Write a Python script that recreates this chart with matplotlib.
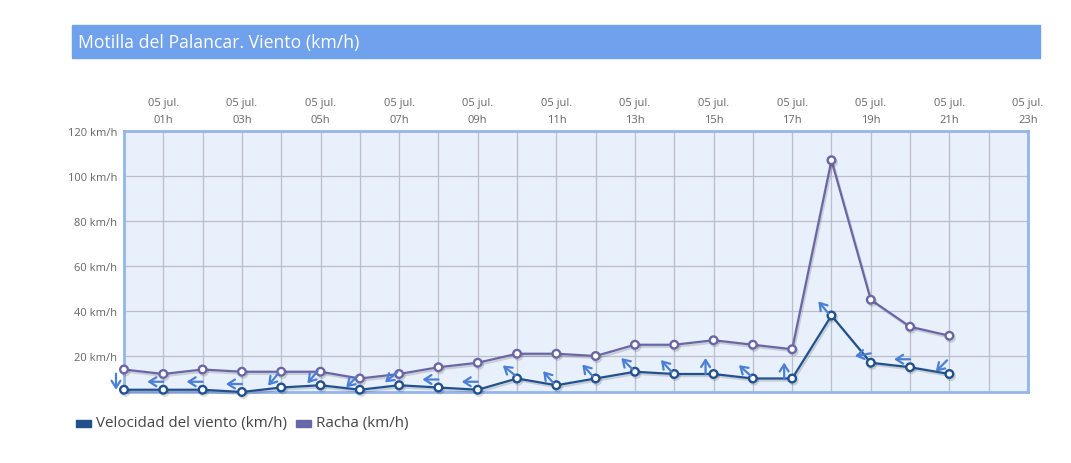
import numpy as np
import matplotlib.pyplot as plt
import matplotlib.patheffects as pe
import matplotlib.transforms as mtransforms
from matplotlib.patches import Rectangle

plt.rcParams['font.family'] = ['Open Sans', 'DejaVu Sans']

# hourly data, 05 jul. 00h .. 21h
hours = list(range(22))
wind = [5, 5, 5, 4, 6, 7, 5, 7, 6, 5, 10, 7, 10, 13, 12, 12, 10, 10, 38, 17, 15, 12]
gust = [14, 12, 14, 13, 13, 13, 10, 12, 15, 17, 21, 21, 20, 25, 25, 27, 25, 23, 107, 45, 33, 29]
# direction the wind comes from (compass degrees)
wind_from = [0, 90, 90, 90, 40, 40, 45, 50, 90, 90, 129, 139, 138, 135, 138, 180, 132, 180, 140, 80, 90, 45]

tick_hours = list(range(1, 24, 2))
tick_labels = ['05 jul.\n%02dh' % h for h in tick_hours]
y_ticks = [20, 40, 60, 80, 100, 120]

wind_color = '#21508f'
gust_color = '#6a66a6'
arrow_color = '#4a7fd6'

fig = plt.figure(figsize=(10.71, 4.64), dpi=100)

# title bar
fig.patches.append(Rectangle((72 / 1071, 1 - 59 / 464), 968 / 1071, 33 / 464,
                             transform=fig.transFigure, color='#6fa1ec', zorder=0))
fig.text(78 / 1071, 1 - 43 / 464, 'Motilla del Palancar. Viento (km/h)',
         color='white', fontsize=12.7, va='center', ha='left')

ax = fig.add_axes([124 / 1071, 1 - 393 / 464, 904 / 1071, 261 / 464])
ax.set_facecolor('#e8f0fb')
ax.set_xlim(0, 23)
ax.set_ylim(4, 120)

ax.set_xticks(range(24))
ax.set_xticklabels([tick_labels[tick_hours.index(h)] if h in tick_hours else '' for h in range(24)])
ax.xaxis.tick_top()
ax.set_yticks(y_ticks)
ax.set_yticklabels(['%d km/h' % v for v in y_ticks])
ax.tick_params(length=0, colors='#666666', labelsize=8, pad=5)
ax.tick_params(axis='x', pad=4)
for lbl in ax.get_xticklabels():
    lbl.set_linespacing(1.75)
ax.grid(True, color='#babfcc', linewidth=0.9)
ax.set_axisbelow(True)
for s in ax.spines.values():
    s.set_color('#94b5ea')
    s.set_linewidth(2)

shadow = [pe.SimpleLineShadow(offset=(1, -1.5), alpha=0.18, shadow_color='#333333'), pe.Normal()]
ax.plot(hours, gust, color=gust_color, lw=1.6, marker='o', ms=5.5, mfc='white',
        mec=gust_color, mew=1.7, path_effects=shadow, zorder=3, clip_on=False)
ax.plot(hours, wind, color=wind_color, lw=1.6, marker='o', ms=5.5, mfc='white',
        mec=wind_color, mew=1.7, path_effects=shadow, zorder=4, clip_on=False)

# direction arrows, drawn in pixels around a point offset up-left of each wind value
half = 8
for h, v, d in zip(hours, wind, wind_from):
    to = np.radians(d + 180)
    dx, dy = np.sin(to) * half, np.cos(to) * half
    cx, cy = -8, 8
    head = mtransforms.offset_copy(ax.transData, fig=fig, x=cx + dx, y=cy + dy, units='dots')
    tail = mtransforms.offset_copy(ax.transData, fig=fig, x=cx - dx, y=cy - dy, units='dots')
    ax.annotate('', xy=(h, v), xycoords=head, xytext=(h, v), textcoords=tail,
                arrowprops=dict(arrowstyle='->,head_length=0.5,head_width=0.32',
                                color=arrow_color, lw=1.6, shrinkA=0, shrinkB=0),
                zorder=5, annotation_clip=False)

# legend
fig.patches.append(Rectangle((76 / 1071, 1 - 428 / 464), 15 / 1071, 7 / 464,
                             transform=fig.transFigure, color=wind_color))
fig.text(96 / 1071, 1 - 424 / 464, 'Velocidad del viento (km/h)', color='#444444',
         fontsize=10.9, va='center', ha='left')
fig.patches.append(Rectangle((296 / 1071, 1 - 428 / 464), 15 / 1071, 7 / 464,
                             transform=fig.transFigure, color=gust_color))
fig.text(316 / 1071, 1 - 424 / 464, 'Racha (km/h)', color='#444444',
         fontsize=10.9, va='center', ha='left')

fig.savefig('out.png', dpi=100)
